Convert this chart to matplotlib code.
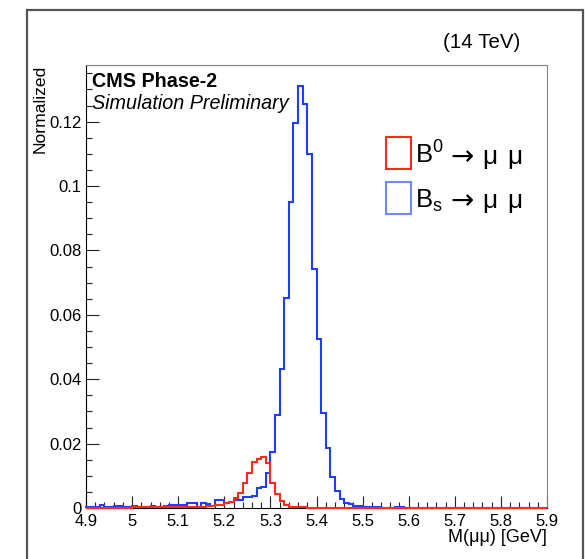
import numpy as np
import matplotlib
matplotlib.use("Agg")
import matplotlib.pyplot as plt
from matplotlib.patches import Rectangle
from matplotlib.ticker import MultipleLocator, FuncFormatter

plt.rcParams["font.family"] = ["Liberation Sans", "DejaVu Sans"]
plt.rcParams["mathtext.fontset"] = "custom"
plt.rcParams["mathtext.rm"] = "Liberation Sans"
plt.rcParams["mathtext.it"] = "Liberation Sans:italic"
plt.rcParams["mathtext.bf"] = "Liberation Sans:bold"

# histogram range: 100 bins of 10 MeV between 4.9 and 5.9 GeV
x_lo = 4.9
x_hi = 5.9
n_bins = 100

# B_s -> mu mu, normalized bin contents
bs_values = [
    0.0004, 0.0004, 0.0004, 0.0010, 0.0004, 0.0004, 0.0007, 0.0007, 0.0004, 0.0004,
    0.0005, 0.0004, 0.0004, 0.0004, 0.0005, 0.0004, 0.0004, 0.0006, 0.0010, 0.0010,
    0.0010, 0.0010, 0.0016, 0.0016, 0.0004, 0.0015, 0.0012, 0.0006, 0.0025, 0.0025,
    0.0015, 0.0020, 0.0025, 0.0025, 0.0033, 0.0033, 0.0037, 0.0061, 0.0066, 0.0110,
    0.0173, 0.0289, 0.0431, 0.0653, 0.0950, 0.1197, 0.1310, 0.1255, 0.1100, 0.0743,
    0.0526, 0.0294, 0.0187, 0.0095, 0.0054, 0.0027, 0.0015, 0.0012, 0.0006, 0.0005,
    0.0003, 0.0003, 0.0002, 0.0002, 0.0001, 0.0001, 0.0001, 0.0002, 0.0002, 0.0001,
    0.0, 0.0, 0.0, 0.0, 0.0, 0.0, 0.0, 0.0, 0.0, 0.0,
    0.0, 0.0, 0.0, 0.0, 0.0, 0.0, 0.0, 0.0, 0.0, 0.0,
    0.0, 0.0, 0.0, 0.0, 0.0, 0.0, 0.0, 0.0, 0.0, 0.0,
]

# B0 -> mu mu
b0_values = [
    0.0001, 0.0001, 0.0001, 0.0001, 0.0001, 0.0001, 0.0001, 0.0001, 0.0001, 0.0001,
    0.0002, 0.0002, 0.0002, 0.0002, 0.0002, 0.0002, 0.0002, 0.0002, 0.0002, 0.0002,
    0.0003, 0.0003, 0.0003, 0.0003, 0.0003, 0.0004, 0.0005, 0.0006, 0.0008, 0.0010,
    0.0015, 0.0020, 0.0030, 0.0046, 0.0077, 0.0108, 0.0144, 0.0152, 0.0159, 0.0139,
    0.0078, 0.0043, 0.0022, 0.0008, 0.0004, 0.0003, 0.0002, 0.0002, 0.0001, 0.0001,
    0.0001, 0.0001, 0.0001, 0.0001, 0.0001, 0.0001, 0.0, 0.0, 0.0, 0.0,
    0.0, 0.0, 0.0, 0.0, 0.0, 0.0, 0.0, 0.0, 0.0, 0.0,
    0.0, 0.0, 0.0, 0.0, 0.0, 0.0, 0.0, 0.0, 0.0, 0.0,
    0.0, 0.0, 0.0, 0.0, 0.0, 0.0, 0.0, 0.0, 0.0, 0.0,
    0.0, 0.0, 0.0, 0.0, 0.0, 0.0, 0.0, 0.0, 0.0, 0.0,
]

# legend: meson part of each label, decay products drawn after an arrow
legend_mesons = [r"$\mathrm{B}^{0}$", r"$\mathrm{B}_{\mathrm{s}}$"]
legend_products = ["μ", "μ"]

RED = "#ff2a1a"
BLUE = "#1f3dff"

W, H = 585, 559


def fx(px):
    return px / W


def fy(py):
    return 1 - py / H


fig = plt.figure(figsize=(W / 100, H / 100), dpi=100)

# outer canvas frame
fig.patches.append(Rectangle((fx(27), -0.05), fx(583) - fx(27), fy(10) + 0.05,
                             transform=fig.transFigure, fill=False,
                             ec="#555555", lw=1.6))

ax = fig.add_axes([fx(86), fy(508), fx(547) - fx(86), fy(65) - fy(508)])

edges = np.linspace(x_lo, x_hi, n_bins + 1)
ax.stairs(bs_values, edges, color=BLUE, lw=1.5, clip_on=False, zorder=3)
ax.stairs(b0_values, edges, color=RED, lw=1.5, clip_on=False, zorder=4)

ax.set_xlim(x_lo, x_hi)
ax.set_ylim(0, 0.1376)

ax.xaxis.set_major_locator(MultipleLocator(0.1))
ax.xaxis.set_minor_locator(MultipleLocator(0.02))
ax.yaxis.set_major_locator(MultipleLocator(0.02))
ax.yaxis.set_minor_locator(MultipleLocator(0.005))
ax.xaxis.set_major_formatter(FuncFormatter(lambda v, p: f"{round(v, 2):g}"))
ax.yaxis.set_major_formatter(FuncFormatter(lambda v, p: f"{round(v, 3):g}"))

ax.tick_params(axis="both", which="both", direction="in", top=False, right=False,
               width=0.8, color="#222222", labelsize=12)
ax.tick_params(axis="y", which="major", length=9.4, pad=3)
ax.tick_params(axis="y", which="minor", length=4.5)
ax.tick_params(axis="x", which="major", length=8.6, pad=4)
ax.tick_params(axis="x", which="minor", length=4.3)

for s in ["left", "bottom"]:
    ax.spines[s].set_color("black")
    ax.spines[s].set_linewidth(0.8)
for s in ["top", "right"]:
    ax.spines[s].set_color("#808080")
    ax.spines[s].set_linewidth(0.8)

# axis titles, ROOT style
fig.text(fx(547), fy(538), "M(μμ) [GeV]", ha="right", va="center", fontsize=13)
fig.text(fx(40), fy(65), "Normalized", ha="center", va="top", rotation=90,
         fontsize=12.6)

fig.text(fx(520), fy(43), "(14 TeV)", ha="right", va="center", fontsize=14.8)
fig.text(fx(92), fy(87), "CMS Phase-2", ha="left", va="baseline",
         fontsize=14.2, fontweight="bold")
fig.text(fx(92), fy(109), "Simulation Preliminary", ha="left", va="baseline",
         fontsize=14.2, style="italic")

# legend
for i, (meson, prod, col) in enumerate(zip(legend_mesons, legend_products,
                                           [RED, "#6f88ff"])):
    top = 137 + 45 * i
    base = 164 + 44 * i
    fig.patches.append(Rectangle((fx(386), fy(top + 32)), fx(411) - fx(386),
                                 fy(top) - fy(top + 32), transform=fig.transFigure,
                                 fill=False, ec=col, lw=1.5))
    fig.text(fx(415), fy(base), meson, ha="left", va="baseline", fontsize=18.5)
    fig.text(fx(462), fy(base - 7), "→", ha="center", va="center",
             fontsize=20, family="DejaVu Sans")
    fig.text(fx(490), fy(base), prod, ha="center", va="baseline", fontsize=19)
    fig.text(fx(515), fy(base), prod, ha="center", va="baseline", fontsize=19)

fig.savefig("out.png", dpi=100)
